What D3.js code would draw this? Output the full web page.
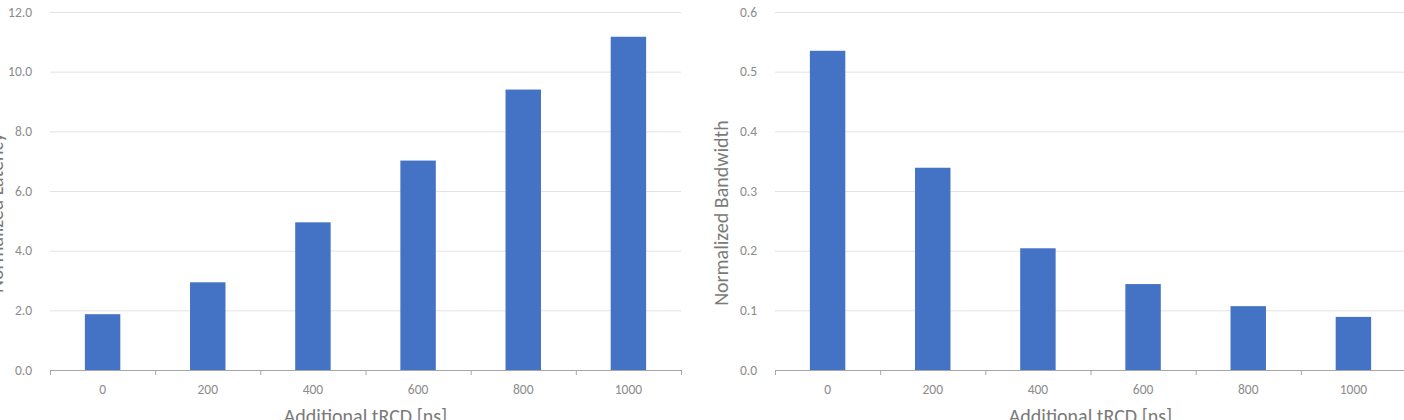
<!DOCTYPE html>
<html>
<head>
<meta charset="utf-8">
<script src="https://cdn.jsdelivr.net/npm/d3@7"></script>
<style>
  body { margin: 0; background: #fff; overflow: hidden; }
  svg { display: block; font-family: Carlito, Calibri, Lato, "Open Sans", sans-serif; }
</style>
</head>
<body>
<script>
// ---- data ----
var categories = ["0", "200", "400", "600", "800", "1000"];
var latency = [1.87, 2.94, 4.95, 7.02, 9.40, 11.17];
var bandwidth = [0.535, 0.339, 0.204, 0.144, 0.107, 0.089];
var latencyTicks = [0, 2, 4, 6, 8, 10, 12];
var bandwidthTicks = [0, 0.1, 0.2, 0.3, 0.4, 0.5, 0.6];

var W = 1404, H = 420;
var svg = d3.select("body").append("svg")
  .attr("width", W)
  .attr("height", H);

function drawChart(opts) {
  var g = svg.append("g");
  var pad = 0.663;
  var x = d3.scaleBand()
    .domain(categories)
    .range([opts.x0, opts.x0 + 631])
    .paddingInner(pad)
    .paddingOuter(pad / 2);

  var y = d3.scaleLinear()
    .domain([0, opts.ticks[opts.ticks.length - 1]])
    .range([370, 12]);

  // gridlines
  g.selectAll(".grid")
    .data(opts.ticks.slice(1))
    .enter().append("line")
    .attr("x1", opts.x0).attr("x2", opts.x0 + 631)
    .attr("y1", function(d) { return y(d) + 0.5; })
    .attr("y2", function(d) { return y(d) + 0.5; })
    .attr("stroke", "#e3e3e3")
    .attr("stroke-width", 1);

  // y tick labels
  g.selectAll(".ylab")
    .data(opts.ticks)
    .enter().append("text")
    .attr("x", opts.x0 - 18)
    .attr("y", function(d) { return y(d) + 4.5; })
    .attr("text-anchor", "end")
    .attr("font-size", 13.5)
    .attr("fill", "#8c8c8c")
    .text(function(d) { return d3.format(".1f")(d); });

  // bars
  g.selectAll(".bar")
    .data(opts.values)
    .enter().append("rect")
    .attr("x", function(d, i) { return x(categories[i]); })
    .attr("width", x.bandwidth())
    .attr("y", function(d) { return y(d); })
    .attr("height", function(d) { return y(0) - y(d); })
    .attr("fill", "#4472C4");

  // x axis line + boundary ticks
  g.append("line")
    .attr("x1", opts.x0).attr("x2", opts.x0 + 631)
    .attr("y1", 370.5).attr("y2", 370.5)
    .attr("stroke", "#a6a6a6");
  g.selectAll(".xtick")
    .data(d3.range(categories.length + 1))
    .enter().append("line")
    .attr("x1", function(i) { return opts.x0 + i * x.step() + 0.5; })
    .attr("x2", function(i) { return opts.x0 + i * x.step() + 0.5; })
    .attr("y1", 370).attr("y2", 375)
    .attr("stroke", "#a6a6a6");

  // x tick labels
  g.selectAll(".xlab")
    .data(categories)
    .enter().append("text")
    .attr("x", function(d) { return x(d) + x.bandwidth() / 2; })
    .attr("y", 394)
    .attr("text-anchor", "middle")
    .attr("font-size", 13.5)
    .attr("fill", "#8c8c8c")
    .text(function(d) { return d; });

  // axis titles
  g.append("text")
    .attr("x", opts.x0 + 631 / 2)
    .attr("y", 423)
    .attr("text-anchor", "middle")
    .attr("font-size", 20)
    .attr("fill", "#7a7a7a")
    .text("Additional tRCD [ns]");

  g.append("text")
    .attr("transform", "translate(" + (opts.x0 - 47) + "," + 213 + ") rotate(-90)")
    .attr("text-anchor", "middle")
    .attr("font-size", 20)
    .attr("fill", "#7a7a7a")
    .text(opts.title);
}

drawChart({ x0: 50, values: latency, ticks: latencyTicks, title: "Normalized Latency" });
drawChart({ x0: 775, values: bandwidth, ticks: bandwidthTicks, title: "Normalized Bandwidth" });
</script>
</body>
</html>
